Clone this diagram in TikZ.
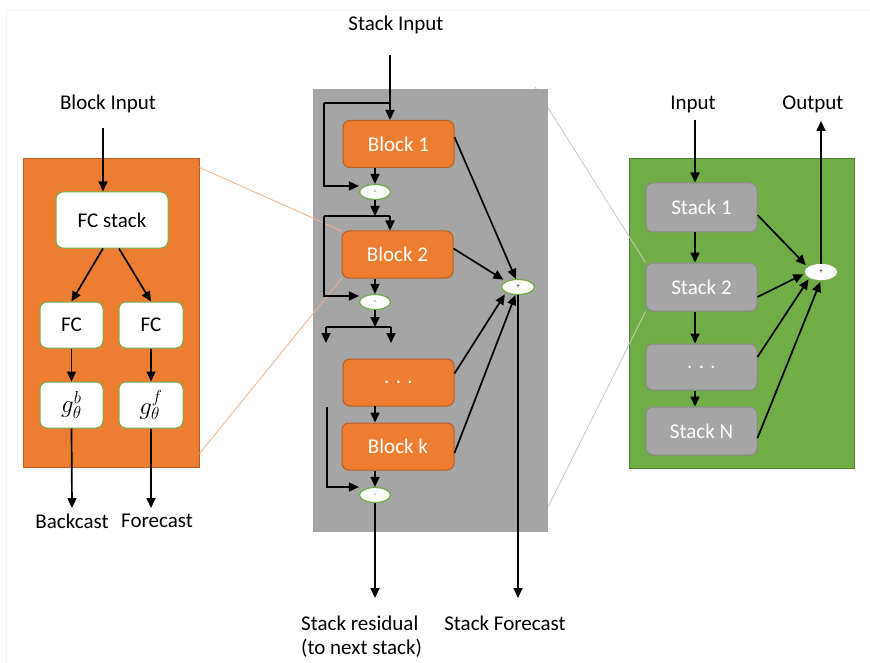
\documentclass[tikz,border=0pt]{standalone}
\usepackage{fontspec}
\setmainfont{Carlito}
\usetikzlibrary{arrows.meta,shapes.geometric,calc}
\definecolor{orng}{HTML}{ED7D31}
\definecolor{orngd}{HTML}{B85F22}
\definecolor{orngl}{HTML}{F4B183}
\definecolor{grn}{HTML}{70AD47}
\definecolor{grnd}{HTML}{507E32}
\definecolor{gry}{HTML}{A5A5A5}
\definecolor{gryd}{HTML}{8A8A8A}
\definecolor{gryl}{HTML}{C8C8C8}
\tikzset{
  lbl/.style={font=\fontsize{21}{24}\selectfont, inner sep=0pt},
  arr/.style={line width=1.7pt, -{Triangle[length=10pt,width=9pt]}},
  ln/.style={line width=1.7pt},
  wbox/.style={draw=grn, line width=1pt, fill=white, rounded corners=7pt, inner sep=0pt, font=\fontsize{21}{24}\selectfont},
  obox/.style={draw=orngd, line width=1pt, fill=orng, rounded corners=7pt, inner sep=0pt, text=white, font=\fontsize{21}{24}\selectfont, minimum width=111pt, minimum height=47pt},
  sbox/.style={draw=gryd, line width=1pt, fill=gry, rounded corners=7pt, inner sep=0pt, text=white, font=\fontsize{21}{24}\selectfont, minimum width=111pt, minimum height=48pt},
  oper/.style={ellipse, draw=grn, line width=1.2pt, fill=white, inner sep=0pt, minimum width=31pt, minimum height=15pt, font=\fontsize{7}{7}\selectfont},
  mth/.style={font=\fontsize{25}{28}\selectfont},
}
\begin{document}
\begin{tikzpicture}[x=1pt,y=-1pt]
\useasboundingbox (0,0) rectangle (870,663);
\fill[white] (0,0) rectangle (870,663);
\draw[gray!12, line width=0.8pt] (6,663) -- (6,10) -- (870,10);

% ---------------- left: block ----------------
\node[draw=orngd, line width=1pt, fill=orng, minimum width=176pt, minimum height=308pt, inner sep=0pt] (lbox) at (111,313) {};
\node[lbl] (blockin) at (108,104) {Block Input};
\node[wbox, minimum width=112pt, minimum height=56pt] (fcs) at (112,220) {FC stack};
\node[wbox, minimum width=63pt, minimum height=46pt] (fc1) at (71.5,325) {FC};
\node[wbox, minimum width=64pt, minimum height=46pt] (fc2) at (151,325) {FC};
\node[wbox, mth, minimum width=63pt, minimum height=46pt] (g1) at (71.5,405) {$g^b_\theta$};
\node[wbox, mth, minimum width=64pt, minimum height=46pt] (g2) at (151,405) {$g^f_\theta$};
\node[lbl] (back) at (72,521) {Backcast};
\node[lbl] (fore) at (157,521) {Forecast};
\coordinate (bi) at (103,128);
\coordinate (bce) at (72,508);
\coordinate (fce) at (151,508);
\draw[arr] (bi) -- (bi |- fcs.north);
\draw[arr] ([xshift=-9pt]fcs.south) -- (fc1.north);
\draw[arr] ([xshift=7pt]fcs.south) -- (fc2.north);
\draw[arr] (fc1) -- (g1);
\draw[arr] (fc2) -- (g2);
\draw[arr] (g1.south) -- (bce);
\draw[arr] (g2.south) -- (fce);

% ---------------- right: model box ----------------
\node[draw=grnd, line width=1pt, fill=grn, minimum width=225pt, minimum height=309pt, inner sep=0pt] (gbox) at (741.5,313.5) {};
\node[sbox, minimum height=49pt] (s1) at (701.5,207.5) {Stack 1};
\node[sbox] (s2) at (701.5,287) {Stack 2};
\node[sbox, minimum height=46pt] (sd) at (701.5,367) {. . .};
\node[sbox] (sN) at (701.5,431) {Stack N};

% gray zoom lines
\coordinate (zg1) at (535,87);
\coordinate (zg2) at (548,507);
\draw[gryl, line width=0.8pt] (zg1) -- (s2.north west);
\draw[gryl, line width=0.8pt] (zg2) -- (s2.south west);

% ---------------- middle: stack ----------------
\node[fill=gry, minimum width=235pt, minimum height=443pt, inner sep=0pt] (gray) at (430.5,310.5) {};
\node[lbl] (stackin) at (396,25) {Stack Input};

\node[obox] (b1) at (398.5,144) {Block 1};
\node[obox] (bd) at (398.5,382.5) {. . .};
\node[obox, minimum width=112pt] (bk) at (398,446.5) {Block k};

% orange zoom lines
\draw[orngl, line width=0.8pt] ([yshift=-9pt]lbox.north east) -- (397.5-55.5,254.5-23.5);
\draw[orngl, line width=0.8pt] ([yshift=14pt]lbox.south east) -- (397.5-55.5,254.5+23.5);
\node[obox] (b2) at (397.5,254.5) {Block 2};

\node[oper] (m1) at (375,192) {-};
\node[oper] (m2) at (375,302) {-};
\node[oper] (m3) at (375,495) {-};
\node[oper, minimum width=33pt] (p1) at (518,287) {+};

\coordinate (si) at (390,55);
\coordinate (sa) at (390,103);
\coordinate (sl) at (324,103);
\draw[arr] (si) -- (si |- b1.north);
\draw[ln] (sa) -- (sl);
\draw[arr] (sl) |- ([yshift=6pt]m1.west);
\draw[arr] (m1.north |- b1.south) -- (m1.north);

\coordinate (j1) at (375,216);
\coordinate (j1l) at (324,216);
\coordinate (j1r) at (390,216);
\draw[arr] (m1.south) -- (j1);
\draw[ln] (j1l) -- (j1r);
\draw[arr] (j1r) -- (j1r |- b2.north);
\draw[arr] (j1l) |- ([yshift=6pt]m2.west);
\draw[arr] (m2.north |- b2.south) -- (m2.north);

\coordinate (j2) at (375,327);
\coordinate (j2l) at (326,327);
\coordinate (j2r) at (391,327);
\coordinate (j2le) at (326,343);
\coordinate (j2re) at (391,343);
\draw[arr] (m2.south) -- (j2);
\draw[ln] (j2l) -- (j2r);
\draw[arr] (j2l) -- (j2le);
\draw[arr] (j2r) -- (j2re);

\coordinate (dd) at (375,406);
\draw[arr] (dd) -- (dd |- bk.north);
\coordinate (kl) at (327,407);
\draw[arr] (kl) |- ([yshift=8pt]m3.west);
\draw[arr] (m3.north |- bk.south) -- (m3.north);

\coordinate (rese) at (375,598);
\coordinate (fcse) at (518,598);
\draw[arr] (m3.south) -- (rese);
\draw[arr] (p1.south) -- (fcse);
\node[lbl, anchor=west] (res1) at (301,623) {Stack residual};
\node[lbl, anchor=west] (res2) at (301,648) {(to next stack)};
\node[lbl] (sfc) at (505,623) {Stack Forecast};

\draw[arr] ([yshift=7pt]b1.east) -- (p1.105);
\draw[arr, shorten >=3pt] ([yshift=6pt]b2.east) -- (p1.north west);
\draw[arr, shorten >=2pt] ([yshift=9pt]bd.east) -- (p1.south west);
\draw[arr] ([yshift=-6.5pt]bk.east) -- (p1.252);

% ---------------- right: model connectors ----------------
\node[lbl] (inp) at (693,104) {Input};
\node[lbl] (outp) at (813,104) {Output};
\node[oper, draw=white] (p2) at (821,272) {+};

\coordinate (ia) at (695,120);
\coordinate (oe) at (821,121);
\draw[arr] (ia) -- (ia |- s1.north);
\draw[arr] (ia |- s1.south) -- (ia |- s2.north);
\draw[arr] (ia |- s2.south) -- (ia |- sd.north);
\draw[arr] (ia |- sd.south) -- (ia |- sN.north);
\draw[arr] (p2.north) -- (oe);
\draw[arr, shorten >=3pt] ([yshift=-7.5pt]s1.east) -- (p2.160);
\draw[arr, shorten >=2pt] ([yshift=-10pt]s2.east) -- (p2.185);
\draw[arr, shorten >=2pt] ([yshift=10pt]sd.east) -- (p2.south west);
\draw[arr, shorten >=2pt] ([yshift=-7pt]sN.east) -- (p2.south);
\end{tikzpicture}
\end{document}
